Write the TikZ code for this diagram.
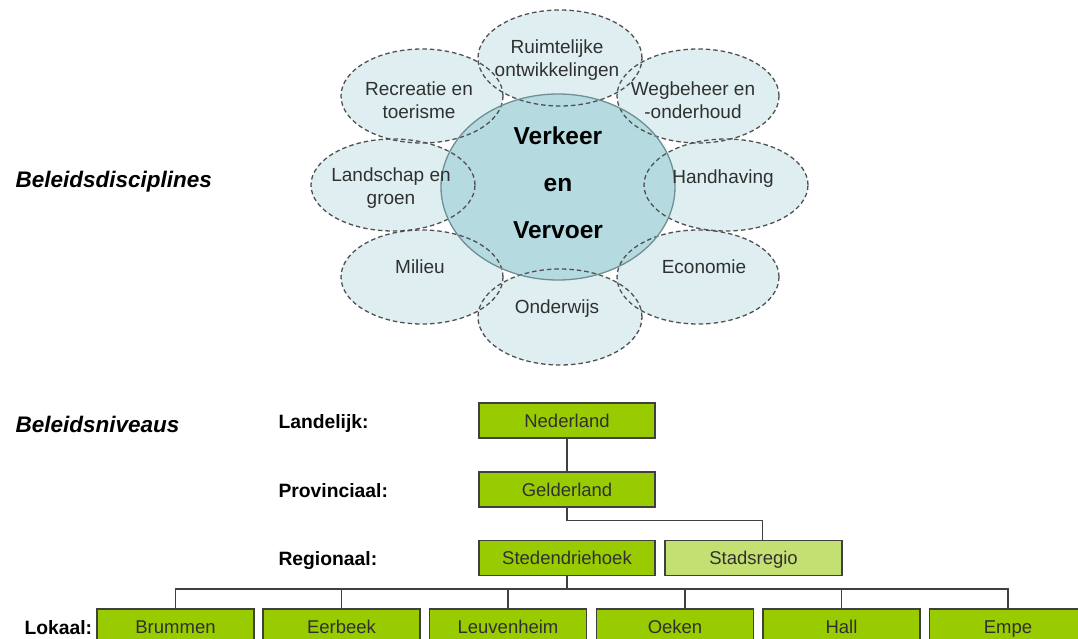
\documentclass[tikz,border=0pt]{standalone}
\usepackage{fontspec}
\setmainfont{Liberation Sans}
\definecolor{lichtblauw}{HTML}{DFEFF1}
\definecolor{blauwgroen}{HTML}{B5DBE1}
\definecolor{randblauw}{HTML}{6E8F94}
\definecolor{streepgrijs}{HTML}{505050}
\definecolor{groen}{HTML}{99CC00}
\definecolor{lichtgroen}{HTML}{C4DF72}
\definecolor{lijngrijs}{HTML}{404040}
\definecolor{tekstgrijs}{HTML}{303030}
\begin{document}
\begin{tikzpicture}[x=1pt,y=-1pt,
        bol/.style={fill=lichtblauw},
        bolrand/.style={draw=streepgrijs,line width=1.3pt,dash pattern=on 4.5pt off 3pt},
        boltekst/.style={align=center,text=tekstgrijs,font=\fontsize{19}{23}\selectfont},
        doos/.style={draw=lijngrijs,line width=1.2pt,fill=groen,minimum width=176pt,minimum height=35pt,
            inner sep=0pt,text height=13.5pt,text depth=0pt,text=tekstgrijs,font=\fontsize{18.5}{20}\selectfont},
        niveau/.style={anchor=base west,font=\bfseries\fontsize{19.3}{22}\selectfont},
        kop/.style={anchor=base west,font=\bfseries\itshape\fontsize{22.5}{26}\selectfont}]
    \useasboundingbox (0,0) rectangle (1078,639);
    \clip (0,0) rectangle (1078,639);
        %% Disciplines: fill first
        \fill[bol] (560,58)  ellipse [x radius=82pt, y radius=48pt];
        \fill[bol] (422,96)  ellipse [x radius=81pt, y radius=47pt];
        \fill[bol] (698,96)  ellipse [x radius=81pt, y radius=47pt];
        \fill[bol] (393,185) ellipse [x radius=82pt, y radius=46pt];
        \fill[bol] (726,185) ellipse [x radius=82pt, y radius=46pt];
        \fill[bol] (422,277) ellipse [x radius=81pt, y radius=47pt];
        \fill[bol] (698,277) ellipse [x radius=81pt, y radius=47pt];
        \fill[bol] (560,317) ellipse [x radius=82pt, y radius=48pt];
        \fill[blauwgroen] (558,187) ellipse [x radius=117pt, y radius=93pt];
        %% Disciplines: dashed borders
        \draw[bolrand] (560,58)  ellipse [x radius=82pt, y radius=48pt];
        \draw[bolrand] (422,96)  ellipse [x radius=81pt, y radius=47pt];
        \draw[bolrand] (698,96)  ellipse [x radius=81pt, y radius=47pt];
        \draw[bolrand] (393,185) ellipse [x radius=82pt, y radius=46pt];
        \draw[bolrand] (726,185) ellipse [x radius=82pt, y radius=46pt];
        \draw[bolrand] (422,277) ellipse [x radius=81pt, y radius=47pt];
        \draw[bolrand] (698,277) ellipse [x radius=81pt, y radius=47pt];
        \draw[bolrand] (560,317) ellipse [x radius=82pt, y radius=48pt];
        \draw[randblauw,line width=1.3pt] (558,187) ellipse [x radius=117pt, y radius=93pt];
        %% Disciplines: texts
        \node[boltekst] (ruimte)   at (557,60)  {Ruimtelijke\\ontwikkelingen};
        \node[boltekst] (recreatie) at (419,100) {Recreatie en\\toerisme};
        \node[boltekst] (wegbeheer) at (693,100) {Wegbeheer en\\-onderhoud};
        \node[boltekst] (landschap) at (391,188) {Landschap en\\groen};
        \node[boltekst,anchor=base] (handhaving) at (723,183) {Handhaving};
        \node[boltekst,anchor=base] (milieu)     at (420,273) {Milieu};
        \node[boltekst,anchor=base] (economie)   at (704,273) {Economie};
        \node[boltekst,anchor=base] (onderwijs)  at (557,313) {Onderwijs};
        \node[anchor=base,font=\bfseries\fontsize{24.5}{28}\selectfont] (verkeer) at (558,145) {Verkeer};
        \node[anchor=base,font=\bfseries\fontsize{24.5}{28}\selectfont] (en)      at (558,192) {en};
        \node[anchor=base,font=\bfseries\fontsize{24.5}{28}\selectfont] (vervoer) at (558,238) {Vervoer};
        \node[kop] (disciplines) at (12,187) {Beleidsdisciplines};
        %% Niveaus
        \node[kop]    (niveaus)     at (12,432)  {Beleidsniveaus};
        \node[niveau] (landelijk)   at (275,428) {Landelijk:};
        \node[niveau] (provinciaal) at (275,497) {Provinciaal:};
        \node[niveau] (regionaal)   at (275,565) {Regionaal:};
        \node[niveau] (lokaal)      at (21,634)  {Lokaal:};
        \node[doos] (Ned)  at (567,420.5) {Nederland};
        \node[doos] (Gel)  at (567,489.5) {Gelderland};
        \node[doos] (Sted) at (567,558)   {Stedendriehoek};
        \node[doos,fill=lichtgroen,minimum width=177pt] (Stads) at (753.5,558) {Stadsregio};
        \node[doos,minimum width=157pt,minimum height=36pt] (Brum) at (175.5,627) {Brummen};
        \node[doos,minimum width=157pt,minimum height=36pt] (Eer)  at (341.5,627) {Eerbeek};
        \node[doos,minimum width=157pt,minimum height=36pt] (Leu)  at (508,627)   {Leuvenheim};
        \node[doos,minimum width=157pt,minimum height=36pt] (Oek)  at (675,627)   {Oeken};
        \node[doos,minimum width=157pt,minimum height=36pt] (Hall) at (841.5,627) {Hall};
        \node[doos,minimum width=157pt,minimum height=36pt] (Empe) at (1008,627)  {Empe};
        \coordinate (bus) at (567,589);
            \draw[lijngrijs,line width=1.2pt] (Ned) -- (Gel);
            \draw[lijngrijs,line width=1.2pt] (Gel.south) -- ++(0,13) -| ([xshift=9pt]Stads.north);
            \draw[lijngrijs,line width=1.2pt] (Sted.south) -- (bus);
            \draw[lijngrijs,line width=1.2pt] (Brum.north) -- (Brum.north |- bus) -- (Empe.north |- bus) -- (Empe.north);
            \draw[lijngrijs,line width=1.2pt] (Eer.north) -- (Eer.north |- bus);
            \draw[lijngrijs,line width=1.2pt] (Leu.north) -- (Leu.north |- bus);
            \draw[lijngrijs,line width=1.2pt] ([xshift=10pt]Oek.north) -- ([xshift=10pt]Oek.north |- bus);
            \draw[lijngrijs,line width=1.2pt] (Hall.north) -- (Hall.north |- bus);
\end{tikzpicture}
\end{document}
